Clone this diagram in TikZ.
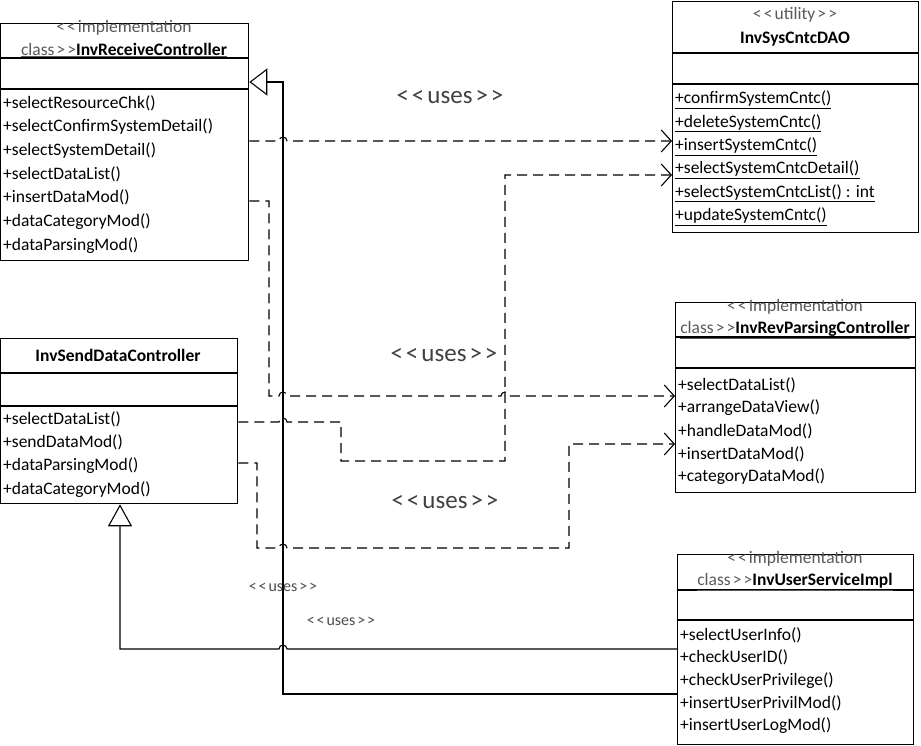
\documentclass[tikz,border=0pt]{standalone}
\usepackage{fontspec}
\setmainfont{Carlito}
\usetikzlibrary{calc,arrows.meta}

\newcommand\lt{<\kern0.12em}
\newcommand\gt{\kern0.12em>}

\begin{document}
\begin{tikzpicture}
[x=1pt,y=-1pt,
 classbox/.style={draw,line width=1.3pt,anchor=north west,inner sep=0pt},
 op/.style={anchor=west,inner sep=0pt,font=\fontsize{17.5}{18}\selectfont},
 stereo/.style={inner sep=0pt,text=black!65,font=\fontsize{17.5}{18}\selectfont},
 usesword/.style={inner sep=0pt,text=black!75,font=\fontsize{25}{26}\selectfont},
 usessmall/.style={inner sep=0pt,text=black!70,font=\fontsize{16}{17}\selectfont},
 uses/.style={line width=1.1pt,dash pattern=on 10pt off 6pt,-{Straight Barb[length=10pt,width=22pt,line width=1.1pt]}},
 inherit/.style={line width=1.1pt,-{Triangle[open,length=18pt,width=27pt,line width=1.1pt]}},]

\useasboundingbox (0,0) rectangle (921,746);

%Class boxes
\node[classbox,minimum width=248,minimum height=237] (recv) at (0,23) {};
\node[classbox,minimum width=246,minimum height=231] (dao) at (672,1) {};
\node[classbox,minimum width=240,minimum height=190] (revp) at (675,302) {};
\node[classbox,minimum width=236,minimum height=190] (usr) at (677,554) {};
\node[classbox,minimum width=237,minimum height=165] (send) at (0,338) {};

%Compartments
\draw[line width=1.3pt] (recv.west |- 0,58) -- (recv.east |- 0,58) (recv.west |- 0,89) -- (recv.east |- 0,89);
\draw[line width=1.3pt] (dao.west |- 0,53) -- (dao.east |- 0,53) (dao.west |- 0,84) -- (dao.east |- 0,84);
\draw[line width=1.3pt] (revp.west |- 0,337) -- (revp.east |- 0,337) (revp.west |- 0,368) -- (revp.east |- 0,368);
\draw[line width=1.3pt] (usr.west |- 0,590) -- (usr.east |- 0,590) (usr.west |- 0,620) -- (usr.east |- 0,620);
\draw[line width=1.3pt] (send.west |- 0,373) -- (send.east |- 0,373) (send.west |- 0,406) -- (send.east |- 0,406);

%Class names
\node[stereo] (recv-st) at (124,28) {\lt\lt implementation};
\node[stereo] (recv-nm) at (124,50) {\underline{class\gt\gt\textcolor{black}{\textbf{InvReceiveController}}}};
\node[stereo] (dao-st) at (795,15) {\lt\lt utility\gt\gt};
\node[stereo,text=black] (dao-nm) at (795,39) {\textbf{InvSysCntcDAO}};
\node[stereo] (revp-st) at (795,307) {\lt\lt Implementation};
\node[stereo] (revp-nm) at (795,330) {\underline{class\gt\gt\textcolor{black}{\textbf{InvRevParsingController}}}};
\node[stereo] (usr-st) at (795,559) {\lt\lt implementation};
\node[stereo] (usr-nm) at (795,582) {\underline{class\gt\gt\textcolor{black}{\textbf{InvUserServiceImpl}}}};
\node[stereo,text=black] (send-nm) at (118,355) {\textbf{InvSendDataController}};

%Operations
\foreach \m [count=\i] in {+selectResourceChk(),+selectConfirmSystemDetail(),+selectSystemDetail(),+selectDataList(),+insertDataMod(),+dataCategoryMod(),+dataParsingMod()}
  \node[op] (recv-m\i) at (3,{103+23.7*(\i-1)}) {\m};
\foreach \m [count=\i] in {+confirmSystemCntc(),+deleteSystemCntc(),+insertSystemCntc(),+selectSystemCntcDetail(),+selectSystemCntcList() : int,+updateSystemCntc()}
  \node[op] (dao-m\i) at (675,{100+23.3*(\i-1)}) {\underline{\m}};
\foreach \m [count=\i] in {+selectDataList(),+arrangeDataView(),+handleDataMod(),+insertDataMod(),+categoryDataMod()}
  \node[op] (revp-m\i) at (678,{385+23*(\i-1)}) {\m};
\foreach \m [count=\i] in {+selectUserInfo(),+checkUserID(),+checkUserPrivilege(),+insertUserPrivilMod(),+insertUserLogMod()}
  \node[op] (usr-m\i) at (680,{635+22.7*(\i-1)}) {\m};
\foreach \m [count=\i] in {+selectDataList(),+sendDataMod(),+dataParsingMod(),+dataCategoryMod()}
  \node[op] (send-m\i) at (3,{419+23.5*(\i-1)}) {\m};

%Dependencies
\draw[uses] (recv.east |- 0,141) -- (279,141) arc[start angle=180,end angle=360,radius=4] -- (dao.west |- 0,141);
\draw[uses] (recv.east |- 0,201) -- (269,201) -- (269,396) -- (279,396) arc[start angle=180,end angle=360,radius=4]
  -- (501,396) arc[start angle=180,end angle=360,radius=4] -- (revp.west |- 0,396);
\draw[uses] (send.east |- 0,422) -- (279,422) arc[start angle=180,end angle=360,radius=4] -- (341,422) -- (341,461)
  -- (505,461) -- (505,175) -- (dao.west |- 0,175);
\draw[uses] (send.east |- 0,463) -- (257,463) -- (257,548) -- (279,548) arc[start angle=180,end angle=360,radius=4]
  -- (569,548) -- (569,444) -- (revp.west |- 0,444);

%Generalizations
\draw[inherit] (usr.west |- 0,694) -- (283,694) -- (283,82) -- (recv.east |- 0,82);
\draw[inherit,-{Triangle[open,length=22pt,width=24pt,line width=1.1pt]}] (usr.west |- 0,649) -- (287,649)
  arc[start angle=0,end angle=-180,radius=4] -- (120,649) -- (send.south -| 120,0);

%Labels
\node[usesword] (u1) at (450,97) {\lt\lt uses\gt\gt};
\node[usesword] (u2) at (444,355) {\lt\lt uses\gt\gt};
\node[usesword] (u3) at (445,502) {\lt\lt uses\gt\gt};
\node[usessmall] (u4) at (283,587) {\lt\lt uses\gt\gt};
\node[usessmall] (u5) at (341,621) {\lt\lt uses\gt\gt};

\end{tikzpicture}
\end{document}
